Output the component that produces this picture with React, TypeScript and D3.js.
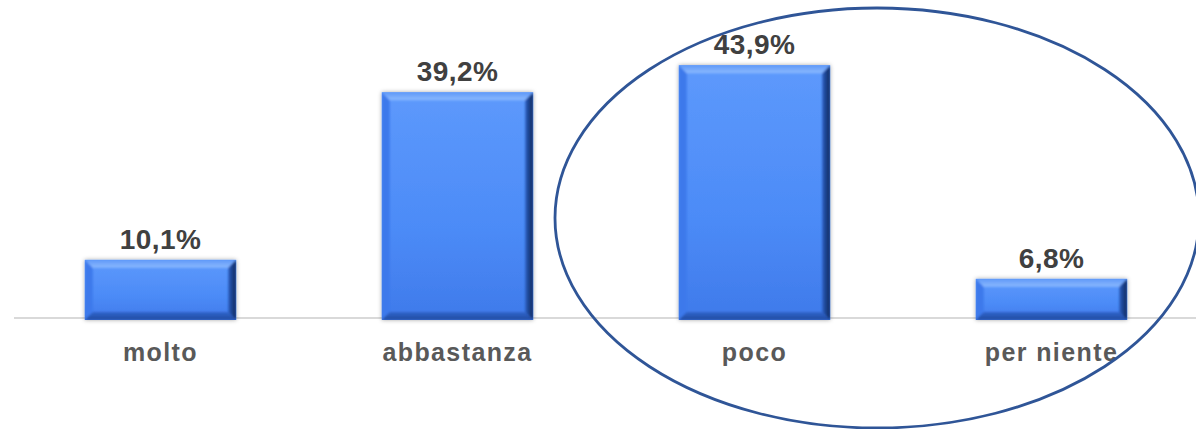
import React from "react";
import { scaleBand, scaleLinear } from "d3";

const categories = ["molto", "abbastanza", "poco", "per niente"];
const values = [10.1, 39.2, 43.9, 6.8];
const valueLabels = ["10,1%", "39,2%", "43,9%", "6,8%"];

const W = 1196;
const H = 429;
const baseY = 318;
const bev = 8;

const App = () => {
  // x: four equal slots across the plot
  const x = scaleBand<string>()
    .domain(categories)
    .range([12, 1200])
    .paddingInner(0.49)
    .paddingOuter(0.245);

  // y: percent -> pixels
  const y = scaleLinear().domain([0, 50]).range([baseY, baseY - 288]);

  const bw = x.bandwidth();

  return (
    <div>
      <style>{"body{margin:0}"}</style>
      <svg width={W} height={H} style={{ display: "block", background: "#fff" }}>
        <defs>
          <linearGradient id="face" x1="0" y1="0" x2="0" y2="1">
            <stop offset="0%" stopColor="#5d99fc" />
            <stop offset="60%" stopColor="#4c8bf7" />
            <stop offset="100%" stopColor="#3f7aea" />
          </linearGradient>
          <linearGradient id="topBev" x1="0" y1="0" x2="0" y2="1">
            <stop offset="0%" stopColor="#5f98f7" />
            <stop offset="100%" stopColor="#8cbaff" />
          </linearGradient>
          <linearGradient id="rightBev" x1="0" y1="0" x2="1" y2="0">
            <stop offset="0%" stopColor="#2a5cbf" />
            <stop offset="100%" stopColor="#0f2858" />
          </linearGradient>
          <linearGradient id="botBev" x1="0" y1="0" x2="0" y2="1">
            <stop offset="0%" stopColor="#3266cc" />
            <stop offset="100%" stopColor="#1f4aa0" />
          </linearGradient>
          <filter id="shadow" x="-10%" y="-10%" width="120%" height="120%">
            <feDropShadow dx="0" dy="0" stdDeviation="2" floodColor="#000" floodOpacity="0.35" />
          </filter>
          <filter id="soft">
            <feGaussianBlur stdDeviation="1.2" />
          </filter>
        </defs>

        {/* baseline */}
        <line x1={14} x2={W} y1={baseY} y2={baseY} stroke="#d9d9d9" strokeWidth={2} />

        {categories.map((c, i) => {
          const x0 = x(c) as number;
          const x1 = x0 + bw;
          const y0 = y(values[i]);
          const y1 = y(0) + 2;
          return (
            <g key={c}>
              <rect x={x0} y={y0} width={bw} height={y1 - y0} fill="url(#face)" filter="url(#shadow)" />
              <svg x={x0} y={y0} width={bw} height={y1 - y0} overflow="hidden">
                <g filter="url(#soft)">
                  {/* left bevel */}
                  <polygon
                    points={`0,0 ${bev},${bev} ${bev},${y1 - y0 - bev} 0,${y1 - y0}`}
                    fill="#3c79eb"
                  />
                  {/* top bevel */}
                  <polygon
                    points={`0,0 ${bw},0 ${bw - bev},${bev} ${bev},${bev}`}
                    fill="url(#topBev)"
                  />
                  {/* right bevel */}
                  <polygon
                    points={`${bw},0 ${bw},${y1 - y0} ${bw - bev},${y1 - y0 - bev} ${bw - bev},${bev}`}
                    fill="url(#rightBev)"
                  />
                  {/* bottom bevel */}
                  <polygon
                    points={`0,${y1 - y0} ${bw},${y1 - y0} ${bw - bev},${y1 - y0 - bev} ${bev},${y1 - y0 - bev}`}
                    fill="url(#botBev)"
                  />
                </g>
              </svg>
              <text
                x={x0 + bw / 2}
                y={y0 - 11}
                textAnchor="middle"
                fontFamily="Liberation Sans, Arial, sans-serif"
                fontWeight="bold"
                fontSize={28}
                letterSpacing={0.4}
                fill="#404040"
              >
                {valueLabels[i]}
              </text>
              <text
                x={x0 + bw / 2}
                y={361}
                textAnchor="middle"
                fontFamily="Liberation Sans, Arial, sans-serif"
                fontWeight="bold"
                fontSize={25}
                letterSpacing={1.4}
                fill="#595959"
              >
                {c}
              </text>
            </g>
          );
        })}

        {/* highlight ellipse around the last two categories */}
        <ellipse cx={877} cy={218} rx={322} ry={210} fill="none" stroke="#2f5597" strokeWidth={2.8} />
      </svg>
    </div>
  );
};

export default App;
